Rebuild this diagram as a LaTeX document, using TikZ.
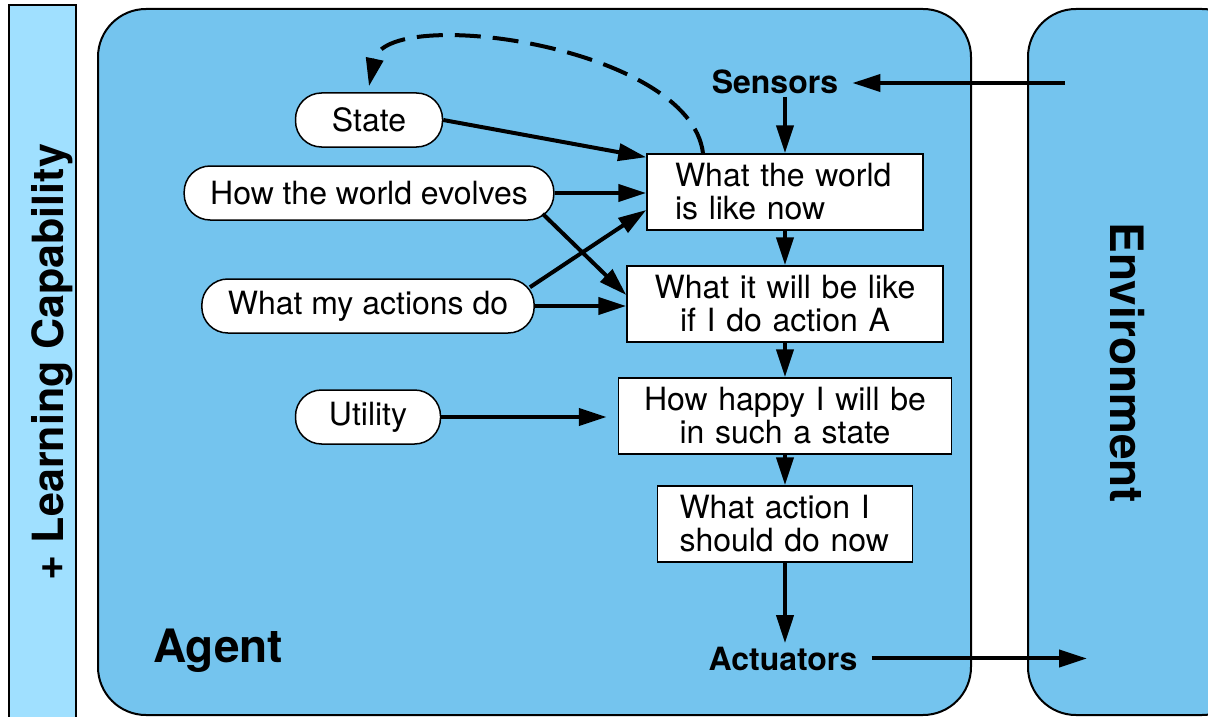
\documentclass[tikz,border=0pt]{standalone}
\usepackage{fontspec}
\setmainfont{TeX Gyre Heros}
\usetikzlibrary{arrows.meta}
\definecolor{agentblue}{RGB}{116,196,238}
\definecolor{learnblue}{RGB}{160,224,255}

\begin{document}
\begin{tikzpicture}
  [x=1pt,y=-1pt,
   every node/.style={font=\fontsize{32}{33}\selectfont},
   thought/.style={draw,fill=white,line width=1.5pt,rounded corners=26pt,minimum height=54pt,inner xsep=26pt},
   proc/.style={draw,fill=white,line width=1.5pt,inner sep=0pt,minimum height=76pt},
   lbl/.style={font=\fontsize{32}{33}\selectfont\bfseries,inner xsep=14pt},
   biglbl/.style={font=\fontsize{46}{50}\selectfont\bfseries},
   flow/.style={line width=4pt,-{Triangle[length=28pt,width=17pt]}}]
  \useasboundingbox (0,0) rectangle (1208,717);

  % frames
  \draw[fill=learnblue,line width=1.5pt] (9,5) rectangle (76,730);
  \draw[fill=agentblue,line width=2pt,rounded corners=48pt] (98,9) rectangle (971,715);
  \draw[fill=agentblue,line width=2pt,rounded corners=48pt] (1028,9) rectangle (1250,715);

  \node[font=\fontsize{43}{46}\selectfont\bfseries,rotate=90] (learn) at (52,362) {+ Learning Capability};
  \node[biglbl,rotate=-90] (env) at (1127,363) {Environment};
  \node[biglbl,anchor=base west,inner sep=0pt] (agent) at (153,662) {Agent};

  % knowledge
  \node[thought,minimum width=147pt] (state) at (369,120) {State};
  \node[thought] (evolves) at (369,193) {How the world evolves};
  \node[thought] (actions) at (368,306) {What my actions do};
  \node[thought,minimum width=145pt] (utility) at (368,417) {Utility};

  % reasoning chain
  \node[proc,text width=220pt,inner xsep=28pt,align=left] (world) at (785,192) {What the world\\is like now};
  \node[proc,text width=296pt,inner xsep=10pt,align=center] (future) at (785,304) {What it will be like\\if I do action A};
  \node[proc,text width=313pt,inner xsep=10pt,align=center] (happy) at (785,416) {How happy I will be\\in such a state};
  \node[proc,text width=211pt,inner xsep=22pt,align=left] (action) at (785,524) {What action I\\should do now};

  \node[lbl,anchor=base] (sensors) at (775,93) {Sensors};
  \node[lbl,anchor=base] (actuators) at (783,670) {Actuators};
  \coordinate (envin) at (1065,83);
  \coordinate (envout) at (1087,660);

  \draw[flow] (envin) -- (envin -| sensors.east);
  \draw[flow] (world.north |- sensors.south) -- (world.north);
  \draw[flow] (world) -- (future);
  \draw[flow] (future) -- (happy);
  \draw[flow] (happy) -- (action);
  \draw[flow] (action.south) -- (action.south |- actuators.north);
  \draw[flow] (actuators.east) -- (actuators.east -| envout);

  \draw[flow] (state.east) -- ([yshift=-4pt]world.north west);
  \draw[flow] (evolves.east) -- (evolves.east -| world.west);
  \draw[flow] ([xshift=-12pt,yshift=7pt]evolves.south east) -- ([yshift=9pt]future.west);
  \draw[flow] ([xshift=-5pt,yshift=-9pt]actions.north east) -- ([yshift=-18pt]world.west);
  \draw[flow] (actions.east) -- (actions.east -| future.west);
  \draw[flow] (utility.east) -- ([xshift=-11pt]utility.east -| happy.west);

  \draw[flow,dash pattern=on 26pt off 12pt] ([xshift=-82pt]world.north)
    .. controls +(-13,-108) and +(17,-82) .. ([yshift=6pt]state.north);
\end{tikzpicture}
\end{document}
